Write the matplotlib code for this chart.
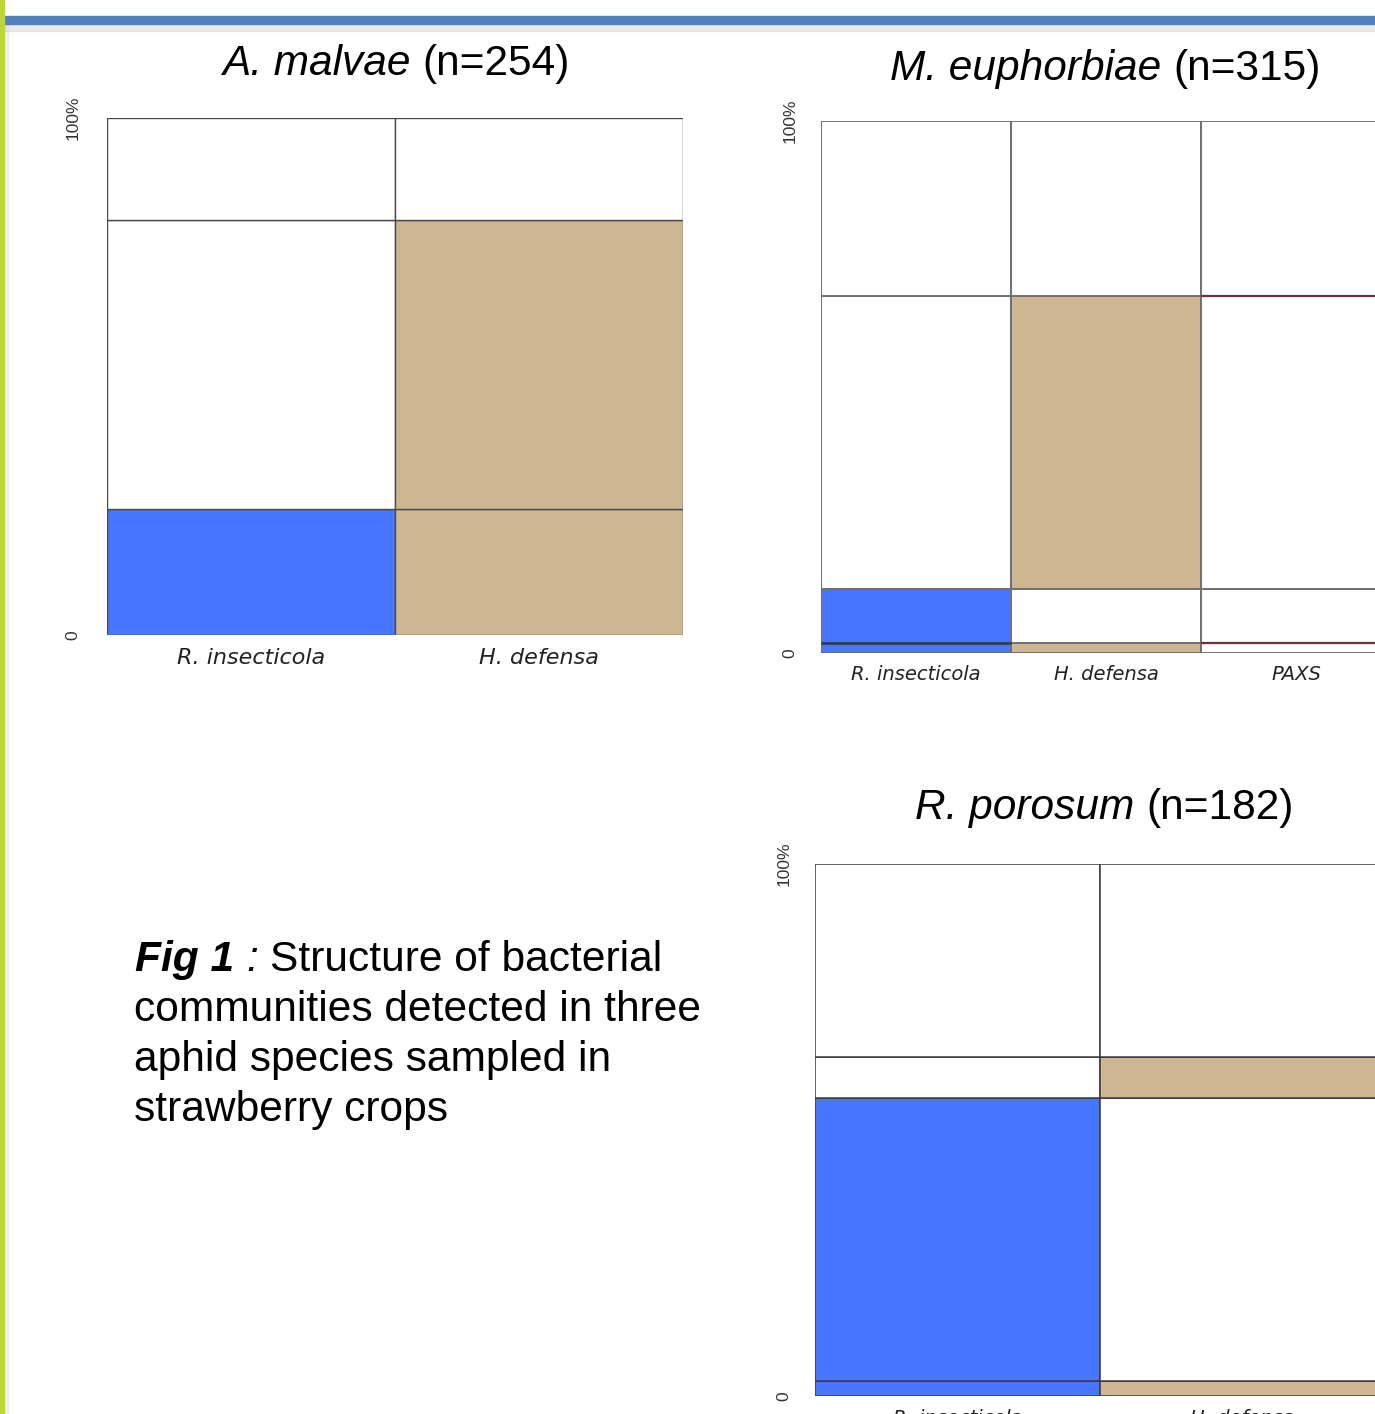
import matplotlib
matplotlib.use("Agg")
import matplotlib.pyplot as plt
from matplotlib.patches import Rectangle

plt.rcParams['font.family'] = ['Liberation Sans', 'DejaVu Sans']

# --- donnees ---
# A. malvae
am_cols = ['R. insecticola', 'H. defensa']
am_breaks = [0.0, 0.244, 0.803, 1.0]
am_present = [[1, 0, 0],
              [1, 1, 0]]

# M. euphorbiae
me_cols = ['R. insecticola', 'H. defensa', 'PAXS']
me_breaks = [0.0, 0.019, 0.120, 0.671, 1.0]
me_present = [[1, 1, 0, 0],
              [1, 0, 1, 0],
              [0, 0, 0, 0]]

# R. porosum
rp_cols = ['R. insecticola', 'H. defensa']
rp_breaks = [0.0, 0.028, 0.560, 0.637, 1.0]
rp_present = [[1, 1, 0, 0],
              [1, 0, 1, 0]]

couleurs = {'R. insecticola': '#4876FF', 'H. defensa': '#CEB693', 'PAXS': '#9E3A4F'}

W, H = 1375, 1414
fig = plt.figure(figsize=(W / 100, H / 100), dpi=100)
renderer = fig.canvas.get_renderer()


def axes_px(left, top, right, bottom):
    return fig.add_axes([left / W, 1 - bottom / H, (right - left) / W, (bottom - top) / H])


def mosaic(ax, cols, breaks, present, edge, lw, yoff, fs):
    for i, c in enumerate(cols):
        for j in range(len(breaks) - 1):
            h = breaks[j + 1] - breaks[j]
            fc = couleurs[c] if present[i][j] else 'white'
            ax.bar(i + 0.5, h, bottom=breaks[j], width=1.0, color=fc,
                   edgecolor=edge, linewidth=lw)
    ax.set_xlim(0, len(cols))
    ax.set_ylim(0, 1)
    for s in ax.spines.values():
        s.set_visible(False)
    ax.set_xticks([i + 0.5 for i in range(len(cols))])
    ax.set_xticklabels(cols, fontstyle='italic', fontsize=fs,
                       family='DejaVu Sans', color='#222222')
    ax.tick_params(axis='x', length=0, pad=9)
    ax.set_yticks([])
    for v, lab in [(0, '0'), (1, '100%')]:
        ax.annotate(lab, xy=(0, v), xycoords=('axes fraction', 'data'),
                    xytext=(yoff, 0), textcoords='offset points',
                    rotation=90, ha='center', va='center', fontsize=12.5,
                    color='#333333', annotation_clip=False)


def morceaux(x, y, parts, fs):
    # texte a styles mixtes, pose morceau par morceau
    espace = 0.278 * fs * 100 / 72
    for txt, kw in parts:
        if txt == ' ':
            x += espace
            continue
        t = fig.text(x / W, 1 - y / H, txt, ha='left', va='baseline', fontsize=fs, **kw)
        x += t.get_window_extent(renderer).width


ax1 = axes_px(107, 118, 683, 635)
mosaic(ax1, am_cols, am_breaks, am_present, '#4a4a4a', 1.0, -24.5, 16)

ax2 = axes_px(821, 121, 1391, 653)
mosaic(ax2, me_cols, me_breaks, me_present, '#707070', 1.4, -22.5, 14)
# traits bordeaux de la colonne PAXS
k = me_cols.index('PAXS')
for j in [1, 3]:
    ax2.hlines(me_breaks[j], k, k + 1, color='#6e2f3f', lw=1.6, zorder=5)
ax2.hlines(me_breaks[1], 0, 1, color='#2a3550', lw=1.8, zorder=5)

ax3 = axes_px(815, 864, 1385, 1396)
mosaic(ax3, rp_cols, rp_breaks, rp_present, '#3a3a3a', 1.1, -22.5, 14)

# titres
it = {'fontstyle': 'italic'}
rm = {}
titres = [(222, 75, 'A. malvae', '(n=254)'),
          (890, 80, 'M. euphorbiae', '(n=315)'),
          (915, 819, 'R. porosum', '(n=182)')]
for x, y, esp, n in titres:
    morceaux(x, y, [(esp, it), (' ', rm), (n, rm)], 30.5)

# legende
fsl = 30.6
morceaux(135, 971, [('Fig 1', {'fontstyle': 'italic', 'fontweight': 'bold'}), (' ', rm),
                    (':', it), (' ', rm), ('Structure of bacterial', rm)], fsl)
lignes = ['communities detected in three',
          'aphid species sampled in',
          'strawberry crops']
for i, t in enumerate(lignes):
    fig.text(134 / W, 1 - (1021 + 50 * i) / H, t, ha='left', va='baseline', fontsize=fsl)

# bandeau du haut et barre verte
fig.patches.append(Rectangle((4 / W, 1 - 31 / H), 1, 7 / H, transform=fig.transFigure,
                             color='#bbbbbb', alpha=0.3, zorder=1))
fig.patches.append(Rectangle((4 / W, 1 - 24 / H), 1, 8 / H, transform=fig.transFigure,
                             color='#4F81BD', zorder=2))
fig.patches.append(Rectangle((4 / W, 0), 4 / W, 1 - 24 / H, transform=fig.transFigure,
                             color='#cccccc', alpha=0.25, zorder=1))
fig.patches.append(Rectangle((0, 0), 4 / W, 1, transform=fig.transFigure,
                             color='#BDD631', zorder=3))

fig.savefig('out.png', dpi=100)
